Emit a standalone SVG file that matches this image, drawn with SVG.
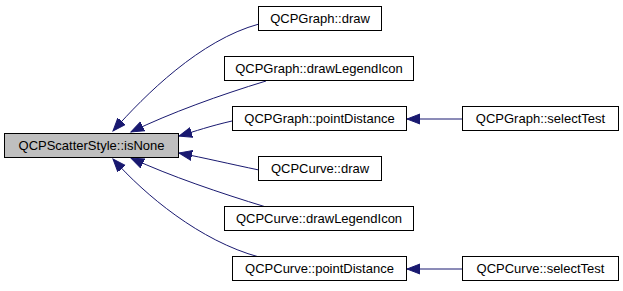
<svg xmlns="http://www.w3.org/2000/svg" width="623" height="291" viewBox="0 0 623 291">
  <style>
    .node rect { fill: #ffffff; stroke: #000000; stroke-width: 1; }
    .node.root rect { fill: #bfbfbf; }
    .node text { font-family: "Liberation Sans", Arial, sans-serif; font-size: 13px; fill: #000000; text-anchor: middle; }
    .edge { fill: none; stroke: #191970; stroke-width: 1; marker-end: url(#arrow); }
  </style>
  <defs>
    <marker id="arrow" markerUnits="userSpaceOnUse" markerWidth="15" markerHeight="12" refX="13" refY="5.5" orient="auto">
      <path d="M0,0.5 L13,5.5 L0,10.5 Z" fill="#191970" stroke="#191970" stroke-width="1"/>
    </marker>
  </defs>
  <rect width="623" height="291" fill="#ffffff"/>

  <!-- call edges: caller -> callee -->
  <g id="edges">
    <path class="edge" d="M259,24 C200,40 145,95 113,131"/>
    <path class="edge" d="M266,81 C220,95 170,113 131,132"/>
    <path class="edge" d="M232,121 C210,126 196,131 179,136"/>
    <path class="edge" d="M259,170 C230,164 205,158 179,153"/>
    <path class="edge" d="M266,207 C220,193 170,176 131,158"/>
    <path class="edge" d="M259,257 C200,241 145,195 113,159"/>
    <path class="edge" d="M462,119 L407,119"/>
    <path class="edge" d="M462,269 L407,269"/>
  </g>

  <g id="node-isNone" class="node root">
    <rect x="4.5" y="133.5" width="174" height="24"/>
    <text x="91.5" y="150">QCPScatterStyle::isNone</text>
  </g>
  <g id="node-graph-draw" class="node">
    <rect x="258.5" y="6.5" width="123" height="24"/>
    <text x="320" y="23">QCPGraph::draw</text>
  </g>
  <g id="node-graph-drawLegendIcon" class="node">
    <rect x="224.5" y="56.5" width="189" height="24"/>
    <text x="319" y="73">QCPGraph::drawLegendIcon</text>
  </g>
  <g id="node-graph-pointDistance" class="node">
    <rect x="232.5" y="106.5" width="174" height="24"/>
    <text x="319.5" y="123">QCPGraph::pointDistance</text>
  </g>
  <g id="node-graph-selectTest" class="node">
    <rect x="462.5" y="106.5" width="156" height="24"/>
    <text x="540.5" y="123">QCPGraph::selectTest</text>
  </g>
  <g id="node-curve-draw" class="node">
    <rect x="258.5" y="156.5" width="123" height="24"/>
    <text x="320" y="173">QCPCurve::draw</text>
  </g>
  <g id="node-curve-drawLegendIcon" class="node">
    <rect x="224.5" y="206.5" width="189" height="24"/>
    <text x="319" y="223">QCPCurve::drawLegendIcon</text>
  </g>
  <g id="node-curve-pointDistance" class="node">
    <rect x="232.5" y="256.5" width="174" height="24"/>
    <text x="319.5" y="273">QCPCurve::pointDistance</text>
  </g>
  <g id="node-curve-selectTest" class="node">
    <rect x="462.5" y="256.5" width="156" height="24"/>
    <text x="540.5" y="273">QCPCurve::selectTest</text>
  </g>
</svg>
